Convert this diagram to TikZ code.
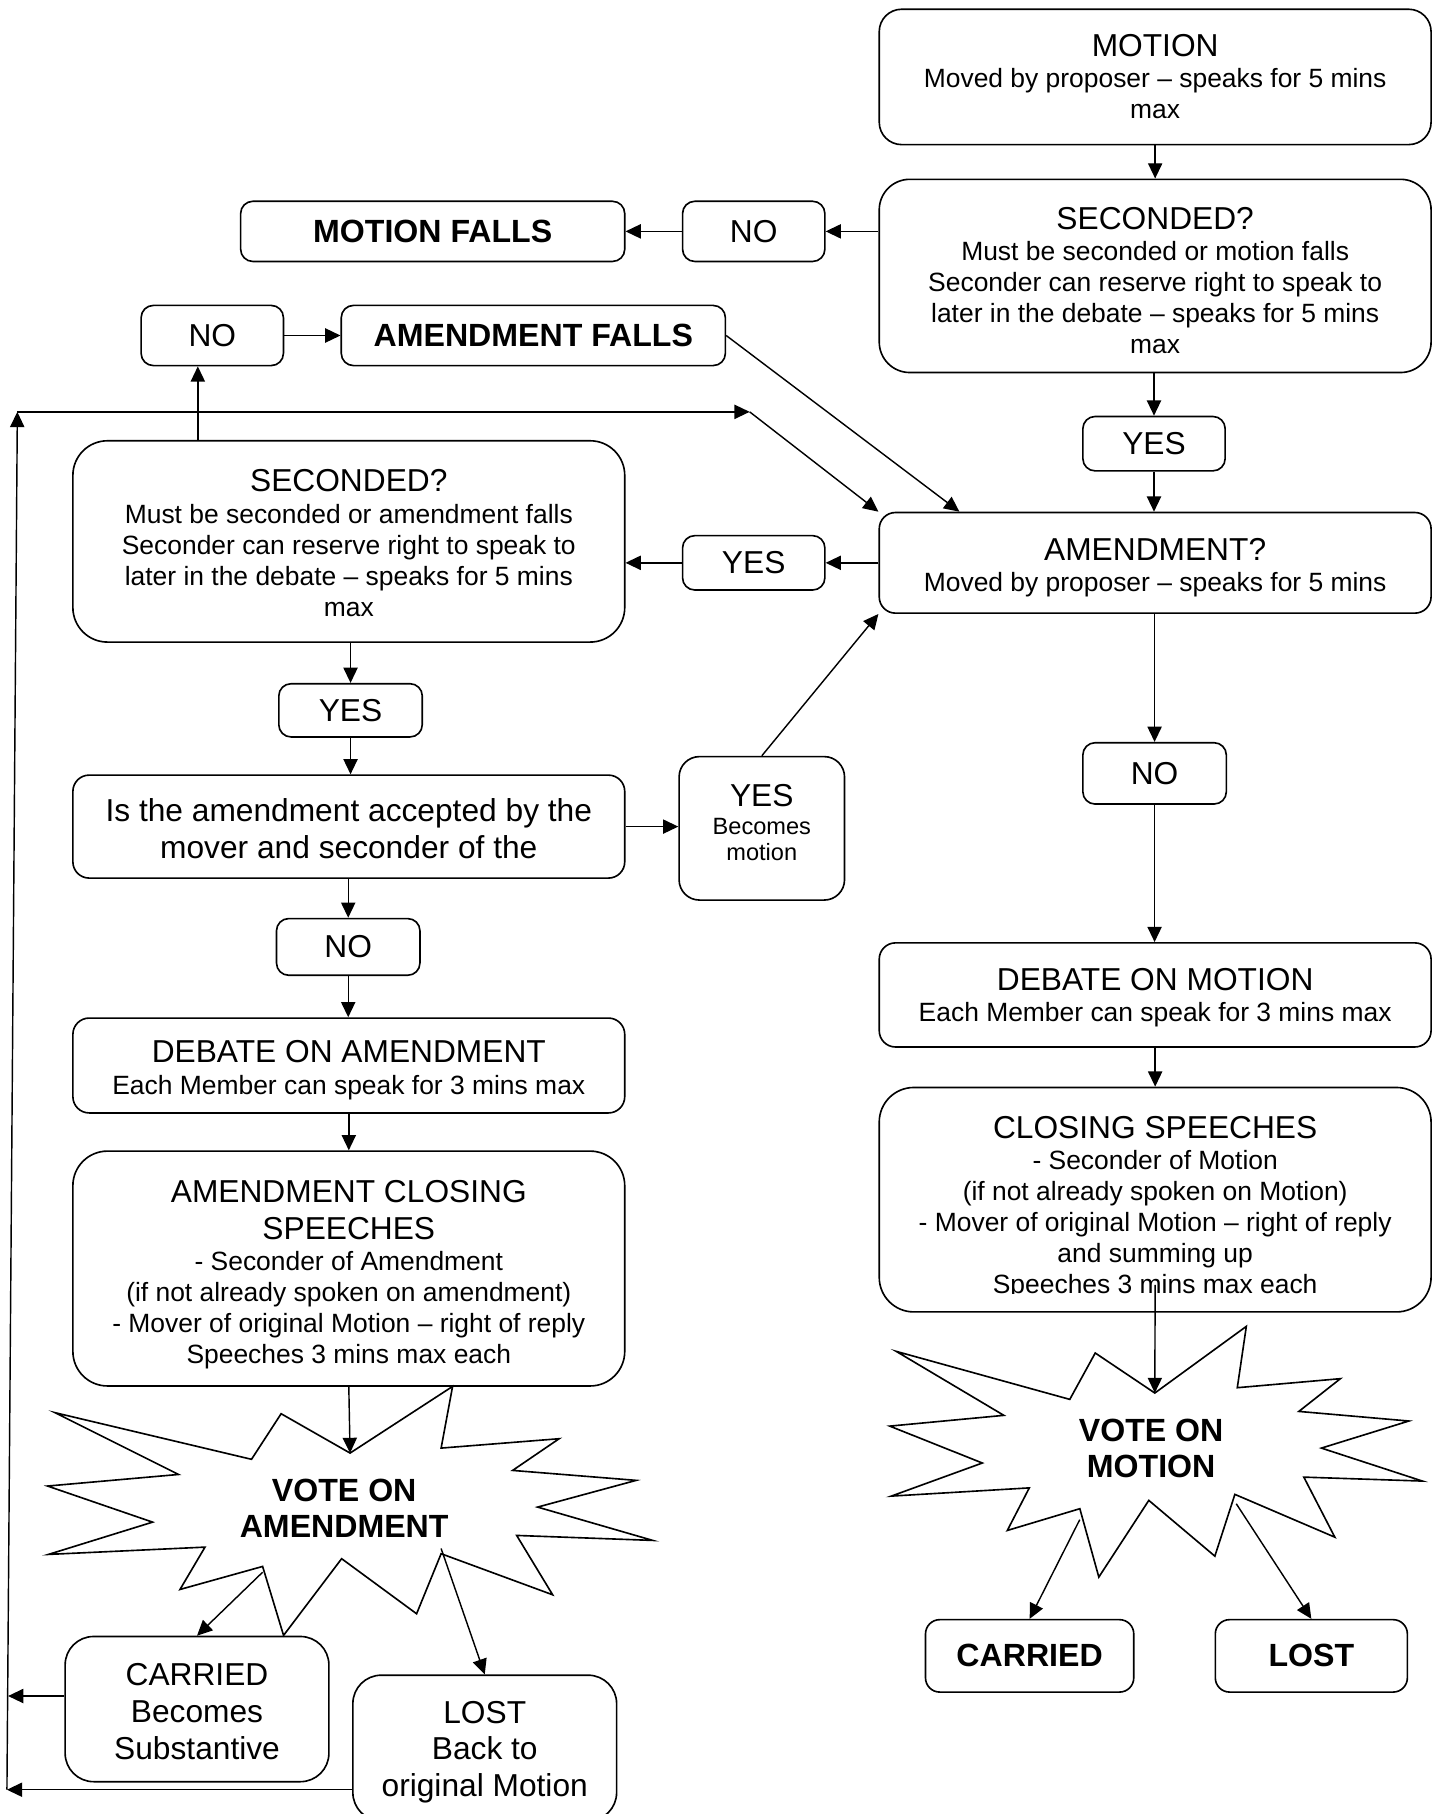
\documentclass[tikz,border=0pt]{standalone}
\usepackage{fontspec}
\setmainfont{Liberation Sans}
\usetikzlibrary{arrows.meta,calc}
\newcommand\tfont{\fontsize{15.6}{18}\selectfont}
\newcommand\tfontb{\fontsize{15.6}{18.1}\selectfont}
\newcommand\bodyfont{\fontsize{13}{15.3}\selectfont}
\newcommand\smallfont{\fontsize{11.6}{13}\selectfont}
\newcommand\boldfont{\bfseries\fontsize{15.8}{17.6}\selectfont}
\begin{document}
\begin{tikzpicture}[x=0.02cm,y=-0.02cm,
  box/.style={draw, line width=0.8pt, rounded corners=#1, align=center, inner sep=0pt},
  box/.default=6pt,
  sz/.style 2 args={minimum width=#1*0.02cm, minimum height=#2*0.02cm},
  tx/.style={align=center, inner sep=0pt},
  arr/.style={line width=0.7pt, -{Triangle[length=7.5pt,width=7pt]}},
  burst/.style={line width=0.8pt, line join=miter},
  votetext/.style={font=\boldfont, align=center, inner sep=0pt}
]
\useasboundingbox (0,0) rectangle (1245,1568);

% right column
\node[box=11pt, sz={477}{117}] (motion) at (998.5,66.5) {};
\node[tx, font=\bodyfont] (motiont) at (motion.center) {{\tfont MOTION}\\Moved by proposer – speaks for 5 mins\\max};
\node[box=15pt, sz={477}{167}] (sec1) at (998.5,238.5) {};
\node[tx, font=\bodyfont] (sec1t) at ([yshift=-0.08cm]sec1.center) {{\tfont SECONDED?}\\Must be seconded or motion falls\\Seconder can reserve right to speak to\\later in the debate – speaks for 5 mins\\max};
\node[box=6pt, sz={123}{52}, font=\tfont] (no1) at (651.5,200) {NO};
\node[box=6pt, sz={332}{52}, font=\boldfont] (mfalls) at (374,200) {MOTION FALLS};
\node[box=6pt, sz={123}{47}, font=\tfont] (yes1) at (997.5,383.5) {YES};
\node[box=8pt, sz={477}{87}] (amend) at (998.5,486.5) {};
\node[tx, font=\bodyfont] (amendt) at ([yshift=-0.08cm]amend.center) {{\tfont AMENDMENT?}\\Moved by proposer – speaks for 5 mins};
\node[box=6pt, sz={124}{53}, font=\tfont] (no4) at (998,668.5) {NO};
\node[box=8pt, sz={477}{90}] (debM) at (998.5,860) {};
\node[tx, font=\bodyfont] (debMt) at ([yshift=-0.04cm]debM.center) {{\tfont DEBATE ON MOTION}\\Each Member can speak for 3 mins max};
\node[box=17pt, sz={477}{194}] (closeM) at (998.5,1037) {};
\begin{scope}
  \clip (760,940) rectangle (1237,1118);
  \node[tx, font=\bodyfont] (closeMt) at ([yshift=-0.14cm]closeM.center) {{\tfont CLOSING SPEECHES}\\- Seconder of Motion\\(if not already spoken on Motion)\\- Mover of original Motion – right of reply\\and summing up\\Speeches 3 mins max each};
\end{scope}
\node[box=7pt, sz={180}{62.6}, font=\boldfont] (carM) at (890,1431.3) {CARRIED};
\node[box=7pt, sz={166}{62.6}, font=\boldfont] (lostM) at (1133.5,1431.3) {LOST};

% left column
\node[box=6pt, sz={123}{52}, font=\tfont] (no2) at (183.5,290) {NO};
\node[box=6pt, sz={332}{52}, font=\boldfont] (afalls) at (461,290) {AMENDMENT FALLS};
\node[box=6pt, sz={123}{47}, font=\tfont] (yes2) at (651.5,486.5) {YES};
\node[box=17pt, sz={477}{174}] (sec2) at (301.5,468) {};
\node[tx, font=\bodyfont] (sec2t) at ([yshift=-0.03cm]sec2.center) {{\tfont SECONDED?}\\Must be seconded or amendment falls\\Seconder can reserve right to speak to\\later in the debate – speaks for 5 mins\\max};
\node[box=6pt, sz={124}{46}, font=\tfont] (yes3) at (303,614) {YES};
\node[box=8pt, sz={477}{89}] (accept) at (301.5,714.5) {};
\node[tx, font=\tfontb] (acceptt) at ([yshift=-0.04cm]accept.center) {Is the amendment accepted by the\\mover and seconder of the};
\node[box=10pt, sz={143}{124}] (yesB) at (658.5,716) {};
\node[tx, font=\smallfont] (yesBt) at ([yshift=0.1cm]yesB.center) {{\tfont YES}\\[1pt]Becomes\\motion};
\node[box=6pt, sz={124}{49}, font=\tfont] (no3) at (301,818.5) {NO};
\node[box=8pt, sz={477}{82}] (debA) at (301.5,921) {};
\node[tx, font=\bodyfont] (debAt) at ([yshift=-0.08cm]debA.center) {{\tfont DEBATE ON AMENDMENT}\\Each Member can speak for 3 mins max};
\node[box=17pt, sz={477}{203}] (closeA) at (301.5,1096.5) {};
\node[tx, font=\bodyfont] (closeAt) at ([yshift=-0.11cm]closeA.center) {{\tfont AMENDMENT CLOSING}\\[2.8pt]{\tfont SPEECHES}\\- Seconder of Amendment\\(if not already spoken on amendment)\\- Mover of original Motion – right of reply\\Speeches 3 mins max each};
\node[box=14pt, sz={228}{125.5}] (carA) at (170.3,1477.3) {};
\node[tx, font=\tfontb] (carAt) at ([yshift=-0.04cm]carA.center) {CARRIED\\Becomes\\Substantive};
\node[box=14pt, sz={228}{126}] (lostA) at (419,1511) {};
\node[tx, font=\tfontb] (lostAt) at ([yshift=-0.07cm]lostA.center) {LOST\\Back to\\original Motion};

% bursts
\draw[burst] (243,1222) -- (302.6,1256) -- (391.2,1198.4) -- (381.3,1251.7) -- (483.3,1243.6) -- (443.1,1271) -- (549.9,1279.6) -- (464.7,1302.7) -- (564.2,1331.5) -- (446.6,1327.2) -- (477.7,1378.5) -- (381.3,1343) -- (360.1,1394.9) -- (295.3,1347.3) -- (245.1,1413.6) -- (227,1354) -- (155.6,1373.9) -- (177.2,1337.3) -- (41.9,1343.6) -- (131.9,1315.7) -- (41.1,1284.5) -- (154.3,1274.5) -- (47.6,1221.1) -- (217.4,1261.4) -- cycle;
\node[votetext] (voteA) at (297.5,1303.5) {VOTE ON\\AMENDMENT};
\draw[burst] (946.7,1169.5) -- (998.2,1204.1) -- (1077.3,1146.5) -- (1069.5,1199.5) -- (1158.6,1191.7) -- (1122.7,1220) -- (1217.8,1228.3) -- (1142.2,1251.7) -- (1229.5,1280.2) -- (1127,1276.8) -- (1153.8,1328.7) -- (1067.4,1291.7) -- (1050.1,1345.1) -- (993,1296.9) -- (949.8,1363.2) -- (933.4,1304.1) -- (870.7,1322.9) -- (889.7,1286.1) -- (770.4,1293.2) -- (849.1,1264.6) -- (769.1,1232.7) -- (867.7,1223.4) -- (774.7,1168.1) -- (924.7,1209.6) -- cycle;
\node[votetext] (voteM) at (995,1252) {VOTE ON\\MOTION};

% coordinates
\coordinate (lb) at (6,1547);
\coordinate (lt) at (15,356);
\coordinate (lm) at (648,356);
\coordinate (ca) at (7,1466);
\coordinate (vA) at (302.6,1256);
\coordinate (vAc) at (227,1359);
\coordinate (vAl) at (381.3,1338.5);
\coordinate (vM) at (998.2,1204.1);
\coordinate (vMc) at (933.3,1313.6);
\coordinate (vMl) at (1068.6,1299.8);
\coordinate (n2s) at ([xshift=-0.25cm]no2.south);

% connectors
\draw[arr] (motion) -- (sec1);
\draw[arr] (no1.east -| sec1.west) -- (no1.east);
\draw[arr] (no1) -- (mfalls);
\draw[arr] (sec1.south -| yes1) -- (yes1.north);
\draw[arr] (yes1) -- (yes1 |- amend.north);
\draw[arr] (afalls.east) -- ([xshift=1.4cm]amend.north west);
\draw[arr] (amend) -- (yes2);
\draw[arr] (yes2.west) -- (yes2.west -| sec2.east);
\draw[arr] (n2s |- sec2.north) -- (n2s);
\draw[arr] (no2) -- (afalls);
\draw[arr] (lostA.west |- lb) -- (lb);
\draw[arr] (carA.west |- ca) -- (ca);
\draw[arr] (lb) -- (lt);
\draw[arr] (lt) -- (lm);
\draw[arr] (lm) -- (amend.north west);
\draw[arr] (sec2.south -| yes3) -- (yes3.north);
\draw[arr] (yes3.south) -- (yes3.south |- accept.north);
\draw[arr] (accept.east) -- (accept.east -| yesB.west);
\draw[arr] (yesB.north) -- (amend.south west);
\draw[arr] (accept.south -| no3) -- (no3.north);
\draw[arr] (no3) -- (no3 |- debA.north);
\draw[arr] (debA.south) -- (debA.south |- closeA.north);
\draw[arr] (closeA.south) -- (vA);
\draw[arr] (vAc) -- (carA.north);
\draw[arr] (vAl) -- (lostA.north);
\draw[arr] (amend.south -| no4) -- (no4.north);
\draw[arr] (no4) -- (no4 |- debM.north);
\draw[arr] (debM) -- (closeM);
\draw[arr] ([yshift=0.48cm]closeM.south) -- (vM);
\draw[arr] (vMc) -- (carM.north);
\draw[arr] (vMl) -- (lostM.north);
\end{tikzpicture}
\end{document}
